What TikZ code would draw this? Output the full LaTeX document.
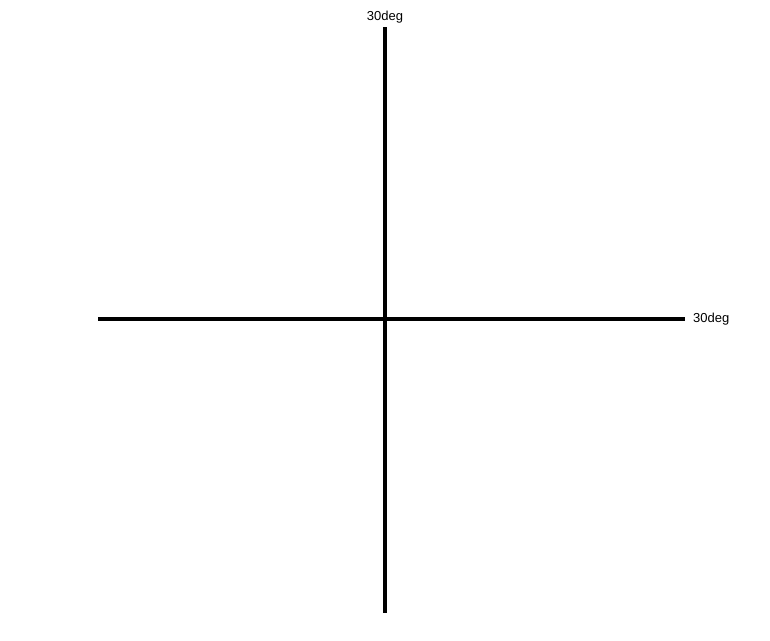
\documentclass[tikz,border=0pt]{standalone}
\usepackage{fontspec}
\setmainfont{Liberation Sans}
\usetikzlibrary{positioning}

\begin{document}
\begin{tikzpicture}[
  x=1pt, y=-1pt,
  font=\fontsize{13}{15}\selectfont,
  axis/.style={line width=4pt},
  lbl/.style ={inner sep=1pt},
]

% ---------- canvas ----------
\useasboundingbox (0,0) rectangle (770,640);

% ---------- axis end points ----------
\coordinate (left)   at (98,319);
\coordinate (right)  at (685,319);
\coordinate (top)    at (385,27);
\coordinate (bottom) at (385,613);

% ---------- cross ----------
\draw[axis] (left) -- (right);
\draw[axis] (top)  -- (bottom);

% ---------- labels ----------
\node[lbl, above=3pt of top]   (toplbl)   {30deg};
\node[lbl, right=7pt of right] (rightlbl) {30deg};

\end{tikzpicture}
\end{document}
